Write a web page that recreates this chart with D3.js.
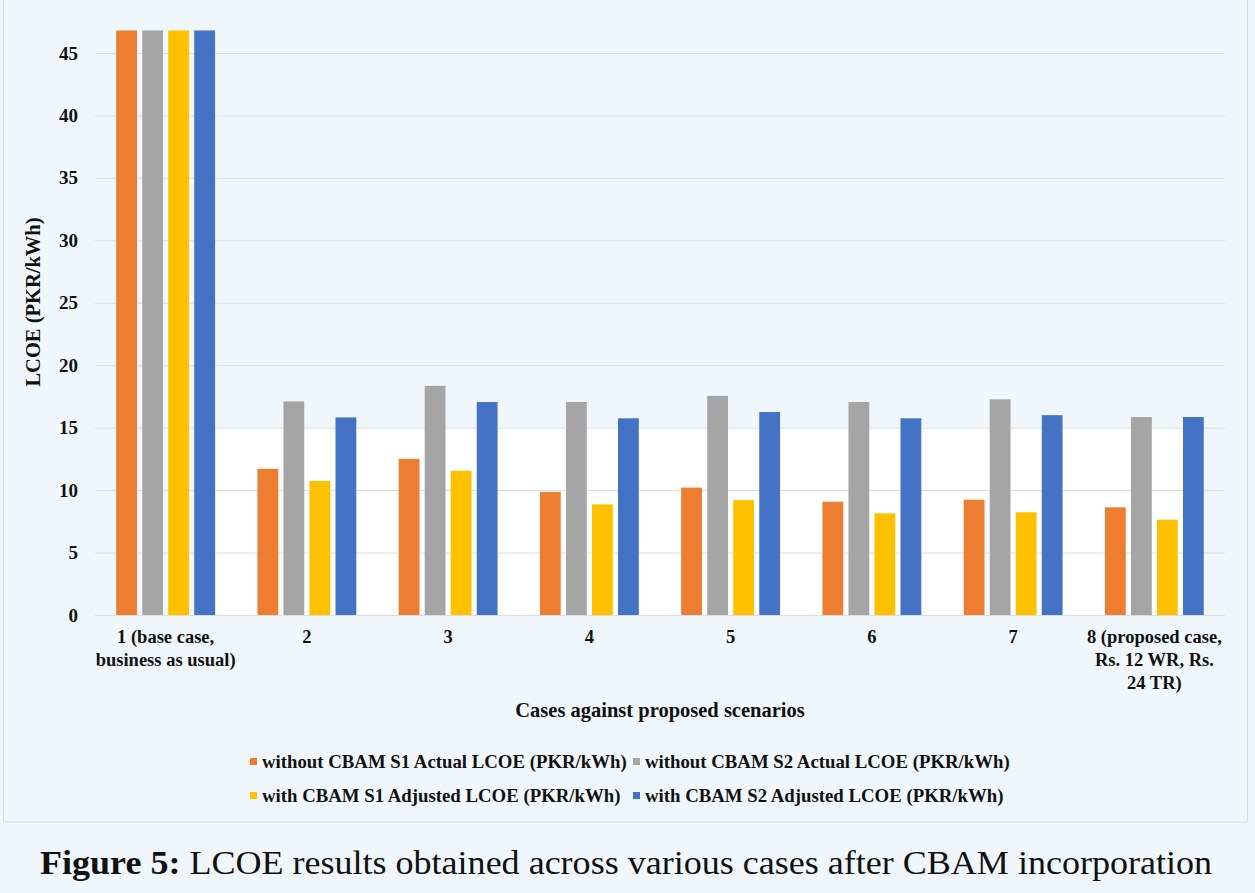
<!DOCTYPE html>
<html>
<head>
<meta charset="utf-8">
<script src="https://cdn.jsdelivr.net/npm/d3@7"></script>
<style>
  html, body { margin: 0; padding: 0; background: #f0f7fc; }
  svg text { font-family: "Liberation Serif", "Times New Roman", serif; fill: #111; }
</style>
</head>
<body>
<div id="chart"></div>
<script>
// Data
const cases = ['1', '2', '3', '4', '5', '6', '7', '8'];
const caseLabels = [
  ['1 (base case,', 'business as usual)'],
  ['2'], ['3'], ['4'], ['5'], ['6'], ['7'],
  ['8 (proposed case,', 'Rs. 12 WR, Rs.', '24 TR)']
];
const seriesNames = [
  'without CBAM S1 Actual LCOE (PKR/kWh)',
  'without CBAM S2 Actual LCOE (PKR/kWh)',
  'with CBAM S1 Adjusted LCOE (PKR/kWh)',
  'with CBAM S2 Adjusted LCOE (PKR/kWh)'
];
const s1Actual = [46.8, 11.7, 12.5, 9.85, 10.2, 9.07, 9.23, 8.62];
const s2Actual = [46.8, 17.1, 18.35, 17.05, 17.55, 17.05, 17.27, 15.85];
const s1Adjusted = [46.8, 10.73, 11.55, 8.86, 9.2, 8.14, 8.22, 7.63];
const s2Adjusted = [46.8, 15.82, 17.05, 15.75, 16.25, 15.75, 16.0, 15.85];
const yTicks = [0, 5, 10, 15, 20, 25, 30, 35, 40, 45];

const seriesValues = [s1Actual, s2Actual, s1Adjusted, s2Adjusted];
const colors = ['#ed7d31', '#a5a5a5', '#ffc000', '#4472c4'];

// Size of the page
const width = 1255;
const height = 893;
const margin = { left: 95, right: 30 };
const plotBottom = 615;

const svg = d3.select('#chart')
  .append('svg')
  .attr('width', width)
  .attr('height', height);

// Chart box
svg.append('rect')
  .attr('x', 3.5)
  .attr('y', -2)
  .attr('width', 1244)
  .attr('height', 824)
  .attr('fill', '#f0f7fc')
  .attr('stroke', '#d6dde3');

// Scales
const x = d3.scaleBand()
  .domain(cases)
  .range([margin.left, width - margin.right])
  .paddingInner(0.3)
  .paddingOuter(0.15);

const xSub = d3.scaleBand()
  .domain(d3.range(seriesNames.length))
  .range([0, x.bandwidth()])
  .paddingInner(0.2);

const y = d3.scaleLinear()
  .domain([0, 45])
  .range([plotBottom, plotBottom - 45 * 12.49]);

// White band behind the shorter groups
svg.append('rect')
  .attr('x', x(cases[0]) + x.bandwidth() + 1)
  .attr('y', y(15))
  .attr('width', x(cases[7]) - x(cases[0]))
  .attr('height', y(0) - y(15))
  .attr('fill', '#ffffff');

// Gridlines
svg.append('g')
  .selectAll('line')
  .data(yTicks)
  .enter()
  .append('line')
  .attr('x1', margin.left)
  .attr('x2', width - margin.right)
  .attr('y1', d => y(d) + 0.5)
  .attr('y2', d => y(d) + 0.5)
  .attr('stroke', '#d9dde0')
  .attr('stroke-width', 1);

// Y axis labels
const yAxis = svg.append('g')
  .attr('transform', `translate(${margin.left - 10},0)`)
  .call(d3.axisLeft(y).tickValues(yTicks).tickSize(0).tickPadding(7));
yAxis.select('.domain').remove();
yAxis.selectAll('text')
  .attr('font-size', 19)
  .attr('font-weight', 'bold')
  .attr('font-family', '"Liberation Serif", serif')
  .attr('fill', '#111');

// Bars
const groups = svg.append('g')
  .selectAll('g')
  .data(cases)
  .enter()
  .append('g')
  .attr('transform', d => `translate(${x(d)},0)`);

groups.selectAll('rect')
  .data((d, i) => seriesValues.map((s, j) => ({ series: j, value: s[i] })))
  .enter()
  .append('rect')
  .attr('x', d => xSub(d.series))
  .attr('y', d => y(d.value))
  .attr('width', xSub.bandwidth())
  .attr('height', d => y(0) - y(d.value))
  .attr('fill', d => colors[d.series]);

// X tick labels
const xLabels = svg.append('g')
  .selectAll('text')
  .data(cases)
  .enter()
  .append('text')
  .attr('x', d => x(d) + x.bandwidth() / 2)
  .attr('y', 643)
  .attr('text-anchor', 'middle')
  .attr('font-size', 18.5)
  .attr('font-weight', 'bold');

xLabels.selectAll('tspan')
  .data((d, i) => caseLabels[i])
  .enter()
  .append('tspan')
  .attr('x', function () { return d3.select(this.parentNode).attr('x'); })
  .attr('dy', (d, i) => i === 0 ? 0 : 23)
  .text(d => d);

// Axis titles
svg.append('text')
  .attr('transform', 'translate(40,302) rotate(-90)')
  .attr('text-anchor', 'middle')
  .attr('font-size', 20.5)
  .attr('font-weight', 'bold')
  .text('LCOE (PKR/kWh)');

svg.append('text')
  .attr('x', 660)
  .attr('y', 717)
  .attr('text-anchor', 'middle')
  .attr('font-size', 20.5)
  .attr('font-weight', 'bold')
  .text('Cases against proposed scenarios');

// Legend, two rows
const legendPos = [[250, 768], [633, 768], [250, 802], [633, 802]];
const legend = svg.append('g')
  .selectAll('g')
  .data(seriesNames)
  .enter()
  .append('g')
  .attr('transform', (d, i) => `translate(${legendPos[i][0]},${legendPos[i][1]})`);

legend.append('rect')
  .attr('x', 0)
  .attr('y', -10)
  .attr('width', 7)
  .attr('height', 7)
  .attr('fill', (d, i) => colors[i]);

legend.append('text')
  .attr('x', 12)
  .attr('y', 0)
  .attr('font-size', 18.8)
  .attr('font-weight', 'bold')
  .text(d => d);

// Caption
const caption = svg.append('text')
  .attr('x', 40)
  .attr('y', 874)
  .attr('font-size', 33)
  .attr('textLength', 1172)
  .attr('lengthAdjust', 'spacingAndGlyphs');
caption.append('tspan').attr('font-weight', 'bold').text('Figure 5:');
caption.append('tspan').text(' LCOE results obtained across various cases after CBAM incorporation');
</script>
</body>
</html>
